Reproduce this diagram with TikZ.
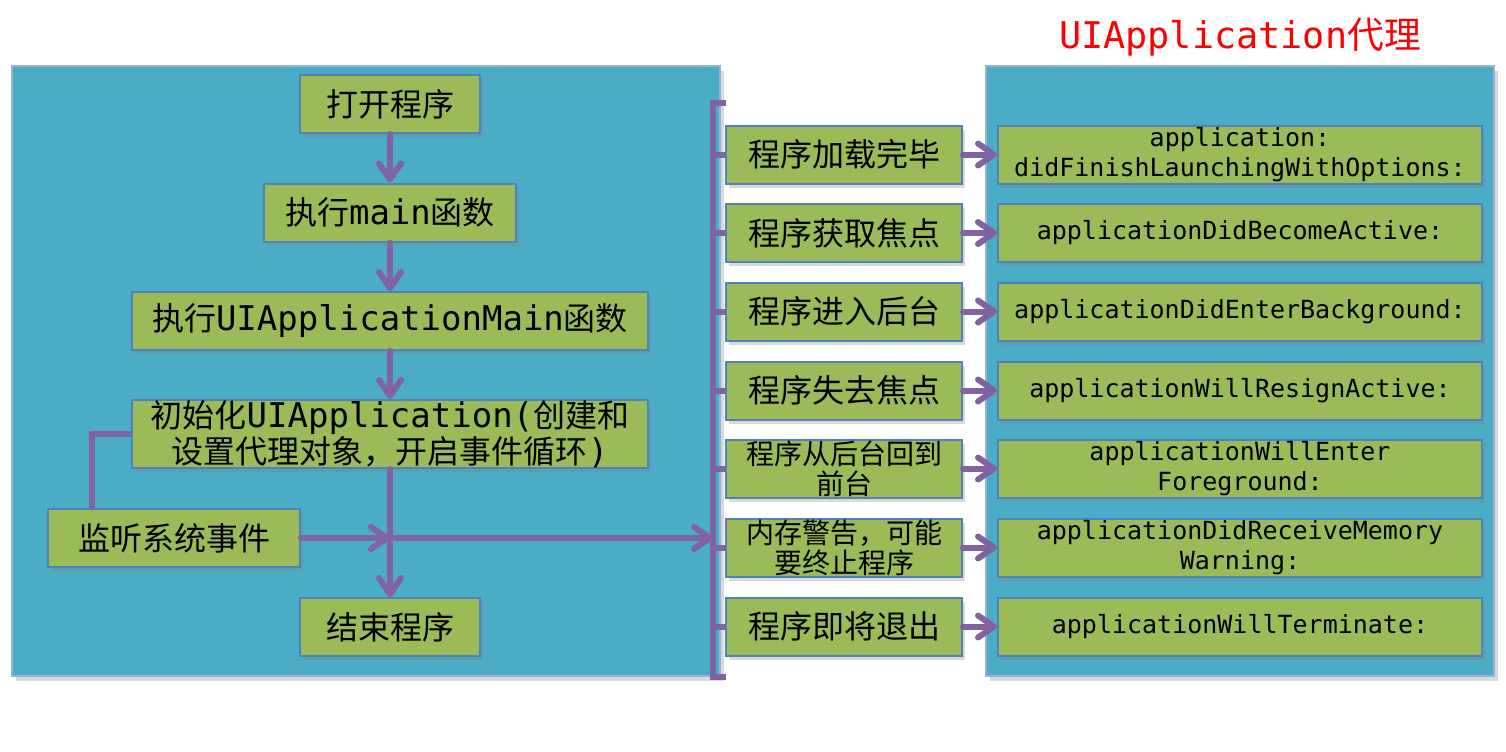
\documentclass[tikz,border=0pt]{standalone}
\usepackage{fontspec}
\setmainfont{Noto Sans CJK SC}
\setmonofont{DejaVu Sans Mono}
\usetikzlibrary{arrows.meta,shadows}
\definecolor{panelblue}{HTML}{4BACC6}
\definecolor{edgeblue}{HTML}{4F81BD}
\definecolor{boxgreen}{HTML}{9BBB59}
\definecolor{linkpurple}{HTML}{8064A2}
\newcommand{\code}[1]{{\fontsize{17pt}{18pt}\selectfont\ttfamily #1}}

\begin{document}
\begin{tikzpicture}[x=0.5pt,y=-0.5pt,
  panel/.style={draw=edgeblue!60,line width=1pt,fill=panelblue,inner sep=0pt,
    drop shadow={opacity=0.3,shadow xshift=2pt,shadow yshift=-2.5pt}},
  box/.style={draw=edgeblue,line width=1pt,fill=boxgreen,inner sep=0pt,align=center,
    minimum height=29pt,font=\fontsize{16pt}{18pt}\selectfont,
    drop shadow={opacity=0.3,shadow xshift=1.5pt,shadow yshift=-2pt}},
  small/.style={font=\fontsize{14pt}{15pt}\selectfont},
  method/.style={box,minimum width=242pt,font=\fontsize{12.5pt}{15pt}\selectfont\ttfamily},
  link/.style={draw=linkpurple,line width=3pt},
  arr/.style={link,line cap=round,-{Straight Barb[length=8pt,width=11pt,line cap=round,line join=round]}},
  bus/.style={link,line cap=butt}]
  \useasboundingbox (0,0) rectangle (1506,751);

  \node[panel,minimum width=354pt,minimum height=305pt] (appside) at (366,371) {};
  \node[panel,minimum width=254pt,minimum height=305pt] (delegate) at (1240,371) {};
  \node[text=red,font=\fontsize{18.4pt}{20pt}\selectfont] (title) at (1240,37)
    {{\ttfamily UIApplication}代理};

  \node[box,minimum width=90pt] (open) at (390,104) {打开程序};
  \node[box,minimum width=126pt] (main) at (390,212.5) {执行\code{main}函数};
  \node[box,minimum width=258pt] (uimain) at (390,321) {执行\code{UIApplicationMain}函数};
  \node[box,minimum width=258pt,minimum height=34pt] (init) at (390,434)
    {初始化\code{UIApplication(}创建和\\设置代理对象，开启事件循环\code{)}};
  \node[box,minimum width=126pt] (listen) at (174,538) {监听系统事件};
  \node[box,minimum width=90pt] (end) at (390,627) {结束程序};

  \node[box,minimum width=118pt] (m1) at (844,154.5) {程序加载完毕};
  \node[box,minimum width=118pt] (m2) at (844,233) {程序获取焦点};
  \node[box,minimum width=118pt] (m3) at (844,311.5) {程序进入后台};
  \node[box,minimum width=118pt] (m4) at (844,390.5) {程序失去焦点};
  \node[box,minimum width=118pt,small] (m5) at (844,468.5) {程序从后台回到\\前台};
  \node[box,minimum width=118pt,small] (m6) at (844,547.5) {内存警告，可能\\要终止程序};
  \node[box,minimum width=118pt] (m7) at (844,626.5) {程序即将退出};

  \node[method] (r1) at (1240,154.5) {application:\\didFinishLaunchingWithOptions:};
  \node[method] (r2) at (1240,233) {applicationDidBecomeActive:};
  \node[method] (r3) at (1240,311.5) {applicationDidEnterBackground:};
  \node[method] (r4) at (1240,390.5) {applicationWillResignActive:};
  \node[method] (r5) at (1240,468.5) {applicationWillEnter\\Foreground:};
  \node[method] (r6) at (1240,547.5) {applicationDidReceiveMemory\\Warning:};
  \node[method] (r7) at (1240,626.5) {applicationWillTerminate:};

  \coordinate (hub) at (390,538);
  \coordinate (busin) at (713,538);
  \coordinate (bustop) at (713,103);
  \coordinate (busbot) at (713,677);
  \coordinate (tabtop) at (726,103);
  \coordinate (tabbot) at (726,677);

  \draw[arr] (open) to (main);
  \draw[arr] (main) to (uimain);
  \draw[arr] (uimain) to (init);
  \draw[arr] (init) to (end);
  \draw[arr] (listen) to (hub);
  \draw[arr] (hub) to (busin);
  \draw[link] ([xshift=22.5pt]listen.north west) |- (init.west);

  \draw[bus] (tabtop) -- (bustop) -- (busbot) -- (tabbot);
  \draw[bus] (m1.west -| bustop) to (m1.west);
  \draw[bus] (m2.west -| bustop) to (m2.west);
  \draw[bus] (m3.west -| bustop) to (m3.west);
  \draw[bus] (m4.west -| bustop) to (m4.west);
  \draw[bus] (m5.west -| bustop) to (m5.west);
  \draw[bus] (m6.west -| bustop) to (m6.west);
  \draw[bus] (m7.west -| bustop) to (m7.west);

  \draw[arr] (m1) to (r1);
  \draw[arr] (m2) to (r2);
  \draw[arr] (m3) to (r3);
  \draw[arr] (m4) to (r4);
  \draw[arr] (m5) to (r5);
  \draw[arr] (m6) to (r6);
  \draw[arr] (m7) to (r7);
\end{tikzpicture}
\end{document}
